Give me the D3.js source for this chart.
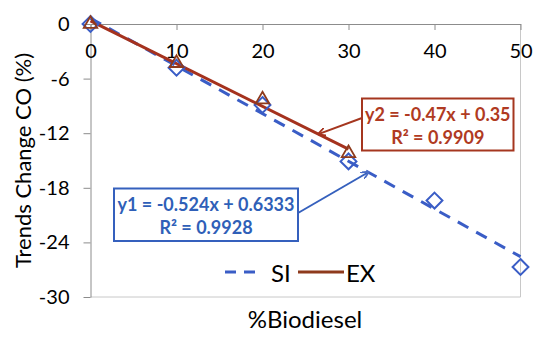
<!DOCTYPE html>
<html>
<head>
<meta charset="utf-8">
<script src="https://cdn.jsdelivr.net/npm/d3@7"></script>
<style>
  body { margin: 0; background: #fff; }
  svg { display: block; font-family: Lato, 'Open Sans', sans-serif; }
</style>
</head>
<body>
<svg id="chart" width="550" height="342"></svg>
<script>
// chart data
const pctBiodiesel = [0, 10, 20, 30, 40, 50];
const siValues = [0, -4.8, -8.9, -15.1, -19.4, -26.7];
const exBiodiesel = [0, 10, 20, 30];
const exValues = [0, -4.3, -8.3, -14.2];
const xTicks = [0, 10, 20, 30, 40, 50];
const yTicks = [0, -6, -12, -18, -24, -30];
// trendline coefficients [slope, intercept] as printed on the chart
const siFit = [-0.524, 0.6333];
const exFit = [-0.47, 0.35];
const siLabels = ['y1 = -0.524x + 0.6333', 'R² = 0.9928'];
const exLabels = ['y2 = -0.47x + 0.35', 'R² = 0.9909'];
const legendNames = ['SI', 'EX'];

const blue = '#3a5dc6';
const red = '#a5321e';
const brown = '#8e3a1c';
const axisGray = '#8c8c8c';

const svg = d3.select('#chart');
const plotLeft = 90.5, plotRight = 520.5, plotTop = 24, plotBottom = 297;

const x = d3.scaleLinear().domain([0, 50]).range([plotLeft, plotRight]);
const y = d3.scaleLinear().domain([-30, 0]).range([plotBottom, plotTop]);

const defs = svg.append('defs');
[['arrow-red', red], ['arrow-blue', '#4a6cc4']].forEach(([id, c]) => {
  defs.append('marker')
    .attr('id', id)
    .attr('viewBox', '0 0 10 10')
    .attr('refX', 9)
    .attr('refY', 5)
    .attr('markerWidth', 8)
    .attr('markerHeight', 8)
    .attr('markerUnits', 'userSpaceOnUse')
    .attr('orient', 'auto')
    .append('path')
    .attr('d', 'M0,0L10,5L0,10')
    .attr('fill', 'none')
    .attr('stroke', c)
    .attr('stroke-width', 2.2);
});

// plot frame (right and bottom edges)
svg.append('path')
  .attr('d', `M${plotRight},${plotTop}V${plotBottom}H${plotLeft}`)
  .attr('fill', 'none')
  .attr('stroke', '#c8c8c8')
  .attr('stroke-width', 1);

// y axis
const yAxis = svg.append('g')
  .attr('transform', `translate(${plotLeft},0)`)
  .call(d3.axisLeft(y).tickValues(yTicks).tickSizeInner(7).tickSizeOuter(0));
yAxis.select('.domain').attr('stroke', axisGray);
yAxis.selectAll('.tick line').attr('stroke', axisGray);
yAxis.selectAll('.tick text')
  .attr('x', -21)
  .attr('font-family', 'Lato, sans-serif')
  .attr('font-size', 20)
  .attr('fill', '#000')
  .text(d => String(d));

// x axis sits on y = 0 (top of the plot)
const xAxis = svg.append('g')
  .attr('transform', `translate(0,${y(0)})`)
  .call(d3.axisBottom(x).tickValues(xTicks).tickSizeInner(6).tickSizeOuter(0));
xAxis.select('.domain').attr('stroke', axisGray);
xAxis.selectAll('.tick line').attr('stroke', axisGray);
xAxis.selectAll('.tick text')
  .attr('y', 27)
  .attr('dy', '0.35em')
  .attr('font-family', 'Lato, sans-serif')
  .attr('font-size', 20)
  .attr('fill', '#000');

// axis titles
svg.append('text')
  .attr('transform', `translate(22,${(plotTop + 297) / 2}) rotate(-90)`)
  .attr('text-anchor', 'middle')
  .attr('dominant-baseline', 'central')
  .attr('font-size', 22)
  .text('Trends Change CO (%)');

svg.append('text')
  .attr('x', 305)
  .attr('y', 318)
  .attr('text-anchor', 'middle')
  .attr('dominant-baseline', 'central')
  .attr('font-size', 24)
  .text('%Biodiesel');

// trendlines
const fitLine = d3.line().x(d => x(d[0])).y(d => y(d[1]));
const siTrend = [0, 50].map(v => [v, siFit[0] * v + siFit[1]]);
const exTrend = [0, 30].map(v => [v, exFit[0] * v + exFit[1]]);

svg.append('path')
  .attr('d', fitLine(siTrend))
  .attr('fill', 'none')
  .attr('stroke', blue)
  .attr('stroke-width', 3)
  .attr('stroke-dasharray', '12,9');

svg.append('path')
  .attr('d', fitLine(exTrend))
  .attr('fill', 'none')
  .attr('stroke', red)
  .attr('stroke-width', 3);

// markers
const diamond = d3.symbol().type(d3.symbolDiamond2).size(160);
const triangle = d3.symbol().type(d3.symbolTriangle2).size(130);

svg.append('g')
  .selectAll('path')
  .data(pctBiodiesel.map((p, i) => [p, siValues[i]]))
  .join('path')
  .attr('transform', d => `translate(${x(d[0])},${y(d[1])})`)
  .attr('d', diamond)
  .attr('fill', 'none')
  .attr('stroke', blue)
  .attr('stroke-width', 2);

svg.append('g')
  .selectAll('path')
  .data(exBiodiesel.map((p, i) => [p, exValues[i]]))
  .join('path')
  .attr('transform', d => `translate(${x(d[0])},${y(d[1])})`)
  .attr('d', triangle)
  .attr('fill', 'none')
  .attr('stroke', brown)
  .attr('stroke-width', 1.8);

// equation callouts
function callout(lines, color, border, box, anchorX, fit, arrowFrom, markerId) {
  const ax = x(anchorX), ay = y(fit[0] * anchorX + fit[1]);
  svg.append('line')
    .attr('x1', arrowFrom[0]).attr('y1', arrowFrom[1])
    .attr('x2', ax).attr('y2', ay)
    .attr('stroke', border)
    .attr('stroke-width', 2)
    .attr('marker-end', `url(#${markerId})`);
  svg.append('rect')
    .attr('x', box[0]).attr('y', box[1])
    .attr('width', box[2]).attr('height', box[3])
    .attr('fill', '#fff')
    .attr('stroke', border)
    .attr('stroke-width', 2);
  svg.append('g')
    .selectAll('text')
    .data(lines)
    .join('text')
    .attr('x', box[0] + box[2] / 2)
    .attr('y', (d, i) => box[1] + 15 + i * 23.5)
    .attr('text-anchor', 'middle')
    .attr('dominant-baseline', 'central')
    .attr('font-size', 18)
    .attr('font-weight', 'bold')
    .attr('fill', color)
    .text(d => d);
}

callout(exLabels, '#b03a22', '#a5361f', [362, 98.5, 151.5, 52], 26.5, exFit, [362, 118], 'arrow-red');
callout(siLabels, '#2f5fb8', '#3560bd', [114, 188.5, 184, 52.5], 32.3, siFit, [298, 213], 'arrow-blue');

// legend
const legend = svg.append('g');
legend.append('line')
  .attr('x1', 225).attr('x2', 262).attr('y1', 272).attr('y2', 272)
  .attr('stroke', blue).attr('stroke-width', 3).attr('stroke-dasharray', '11,8');
legend.append('text')
  .attr('x', 271).attr('y', 272)
  .attr('dominant-baseline', 'central')
  .attr('font-size', 24)
  .text(legendNames[0]);
legend.append('line')
  .attr('x1', 298).attr('x2', 344).attr('y1', 272).attr('y2', 272)
  .attr('stroke', brown).attr('stroke-width', 3);
legend.append('text')
  .attr('x', 346).attr('y', 272)
  .attr('dominant-baseline', 'central')
  .attr('font-size', 24)
  .text(legendNames[1]);
</script>
</body>
</html>
